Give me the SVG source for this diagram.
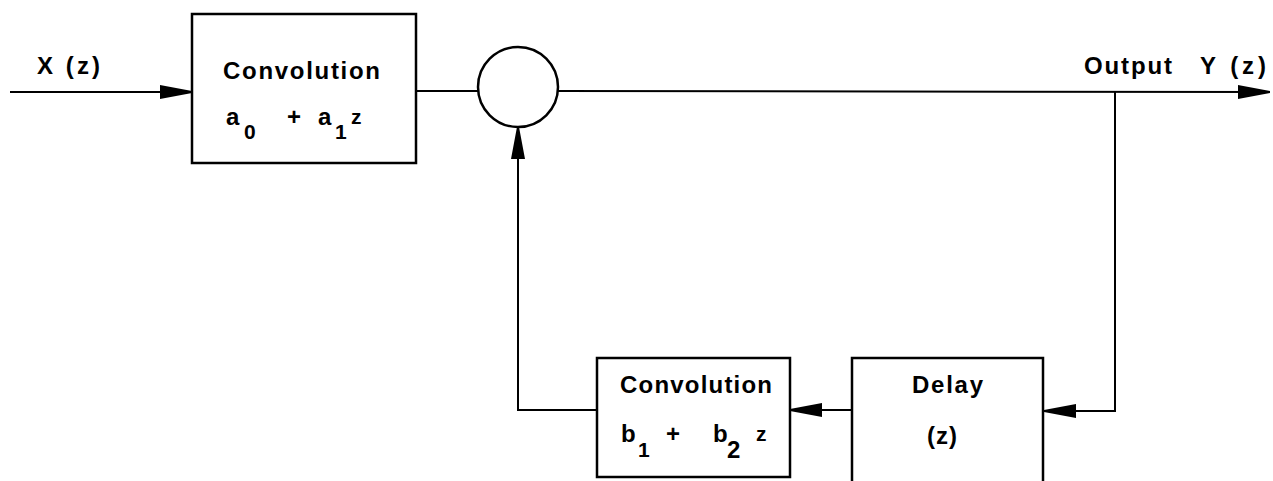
<svg xmlns="http://www.w3.org/2000/svg" width="1273" height="481" viewBox="0 0 1273 481">
<style>
.box{fill:#fff;stroke:#000;stroke-width:2.5}
.ln{fill:none;stroke:#000;stroke-width:2}
.t{font-family:"Liberation Sans",Arial,sans-serif;font-weight:bold;font-size:24px;fill:#000}
.s{font-family:"Liberation Sans",Arial,sans-serif;font-weight:bold;font-size:21px;fill:#000}
</style>
<defs>
<marker id="ah" markerUnits="userSpaceOnUse" markerWidth="34" markerHeight="18" refX="32" refY="9" orient="auto">
<path d="M0,2 L32,8 L32,10 L0,16 Z" fill="#000"/>
</marker>
</defs>
<rect width="1273" height="481" fill="#fff"/>
<g id="connectors">
<line class="ln" x1="10" y1="92" x2="192" y2="92" marker-end="url(#ah)"/>
<line class="ln" x1="416" y1="91" x2="478" y2="91"/>
<line class="ln" x1="558" y1="91" x2="1270" y2="92" marker-end="url(#ah)"/>
<polyline class="ln" points="1115,92 1115,411 1044,411" marker-end="url(#ah)"/>
<line class="ln" x1="852" y1="410" x2="790" y2="410" marker-end="url(#ah)"/>
<polyline class="ln" points="597,410 518,410 518,127" marker-end="url(#ah)"/>
</g>
<g id="input-label">
<text class="t" x="37" y="74" textLength="63" lengthAdjust="spacing">X (z)</text>
</g>
<g id="output-label">
<text class="t" x="1084" y="74" textLength="88" lengthAdjust="spacing">Output</text>
<text class="t" x="1200" y="74" textLength="66" lengthAdjust="spacing">Y (z)</text>
</g>
<g id="conv-a">
<rect class="box" x="192" y="14" width="224" height="149"/>
<text class="t" x="223" y="79" textLength="157" lengthAdjust="spacing">Convolution</text>
<text class="t" x="226" y="125">a</text>
<text class="s" x="244" y="139">0</text>
<text class="t" x="287" y="125">+</text>
<text class="t" x="318" y="125">a</text>
<text class="s" x="335" y="139">1</text>
<text class="s" x="351" y="124">z</text>
</g>
<g id="sum">
<circle cx="518" cy="87" r="40" fill="#fff" stroke="#000" stroke-width="2.5"/>
</g>
<g id="conv-b">
<rect class="box" x="597" y="358" width="193" height="119"/>
<text class="t" x="620" y="393" textLength="152" lengthAdjust="spacing">Convolution</text>
<text class="t" x="621" y="442">b</text>
<text class="s" x="638" y="457">1</text>
<text class="t" x="666" y="442">+</text>
<text class="t" x="713" y="442">b</text>
<text class="t" x="727" y="458">2</text>
<text class="s" x="756" y="441">z</text>
</g>
<g id="delay">
<rect class="box" x="852" y="358" width="191" height="130"/>
<text class="t" x="912" y="393" textLength="71" lengthAdjust="spacing">Delay</text>
<text class="t" x="927" y="444" textLength="30" lengthAdjust="spacing">(z)</text>
</g>
</svg>
